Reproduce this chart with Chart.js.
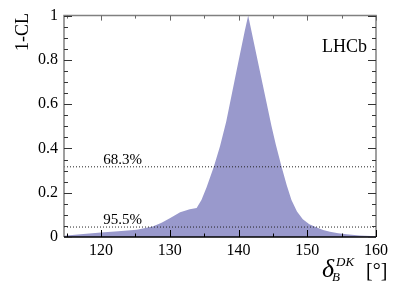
<!DOCTYPE html>
<html>
<head>
<meta charset="utf-8">
<script src="https://cdn.jsdelivr.net/npm/chart.js@4/dist/chart.umd.min.js"></script>
<style>
  html, body { margin: 0; padding: 0; background: #fff; }
  #wrap { width: 399px; height: 286px; position: relative; }
</style>
</head>
<body>
<div id="wrap"><canvas id="clChart"></canvas></div>
<script>
// angle values (degrees) and 1-CL
const deltaDeg = [114.6, 117, 120, 122.5, 125.2, 127.5, 128.8, 130, 131.5, 132.9, 133.9, 134.6, 135.35, 136.4, 137.3, 138.2, 139.7, 140.9, 141.4,
  143.1, 144.8, 145.4, 146.25, 147.0, 147.7, 148.5, 149.35, 150.3, 151.3, 152.3, 153.3, 154.5, 155.7, 157.6, 160];
const oneMinusCL = [0.006, 0.012, 0.02, 0.026, 0.033, 0.047, 0.064, 0.085, 0.112, 0.125, 0.131, 0.167, 0.225, 0.317, 0.41, 0.52, 0.75, 0.93, 1.0,
  0.75, 0.5, 0.42, 0.318, 0.235, 0.167, 0.115, 0.08, 0.058, 0.044, 0.032, 0.024, 0.017, 0.0125, 0.007, 0.003];

// confidence levels drawn as dotted lines
const clLabels = ["68.3%", "95.5%"];
const clLevels = [0.317, 0.045];

const xTickVals = [120, 130, 140, 150, 160];
const yTickVals = [0, 0.2, 0.4, 0.6, 0.8, 1];

const serif = "Liberation Serif";
Chart.defaults.font.family = serif;

const curve = deltaDeg.map((x, i) => ({ x: x, y: oneMinusCL[i] }));

const datasets = [{
  data: curve,
  fill: "origin",
  backgroundColor: "rgb(153,153,204)",
  borderWidth: 0,
  pointRadius: 0,
  tension: 0,
  order: 2
}];
clLevels.forEach((lv) => {
  datasets.push({
    data: [{ x: 114.6, y: lv }, { x: 160, y: lv }],
    borderColor: "#222",
    borderWidth: 1,
    borderDash: [1, 2],
    pointRadius: 0,
    fill: false,
    order: 1
  });
});

// frame, inward ticks and the texts
const framePlugin = {
  id: "frame",
  afterDraw(chart) {
    const { ctx, chartArea: a, scales } = chart;
    const xs = scales.x, ys = scales.y;
    ctx.save();
    ctx.lineWidth = 1.5;
    ctx.strokeStyle = "#808080";
    ctx.beginPath();
    ctx.moveTo(a.left, a.bottom); ctx.lineTo(a.left, a.top);
    ctx.lineTo(a.right, a.top); ctx.lineTo(a.right, a.bottom);
    ctx.stroke();
    ctx.strokeStyle = "#000";
    ctx.beginPath();
    ctx.moveTo(a.left, a.bottom); ctx.lineTo(a.right, a.bottom);
    ctx.stroke();

    ctx.lineWidth = 1;
    // x ticks every 5, major every 10
    for (let v = 115; v <= 160; v += 5) {
      const px = Math.round(xs.getPixelForValue(v)) + 0.5;
      const major = v % 10 === 0;
      const len = major ? 7 : 3.5;
      ctx.strokeStyle = "#000";
      ctx.beginPath(); ctx.moveTo(px, a.bottom); ctx.lineTo(px, a.bottom - len); ctx.stroke();
      ctx.strokeStyle = "#666";
      ctx.beginPath(); ctx.moveTo(px, a.top); ctx.lineTo(px, a.top + (major ? 5 : 3)); ctx.stroke();
    }
    // y ticks every 0.05, major every 0.2
    for (let i = 0; i <= 20; i++) {
      const v = i * 0.05;
      const py = Math.round(ys.getPixelForValue(v)) + 0.5;
      const major = i % 4 === 0;
      const len = major ? 8 : 4;
      ctx.strokeStyle = "#333";
      ctx.beginPath(); ctx.moveTo(a.left, py); ctx.lineTo(a.left + len, py); ctx.stroke();
      ctx.beginPath(); ctx.moveTo(a.right, py); ctx.lineTo(a.right - len, py); ctx.stroke();
    }

    ctx.fillStyle = "#000";
    // CL labels above the dotted lines
    ctx.font = "15px '" + serif + "'";
    ctx.textAlign = "left";
    ctx.textBaseline = "alphabetic";
    clLevels.forEach((lv, i) => {
      ctx.fillText(clLabels[i], xs.getPixelForValue(120.3), ys.getPixelForValue(lv) - 3);
    });

    ctx.font = "18px '" + serif + "'";
    ctx.textAlign = "right";
    ctx.fillText("LHCb", 367, 52);

    // y title
    ctx.save();
    ctx.translate(28, 13);
    ctx.rotate(-Math.PI / 2);
    ctx.textAlign = "right";
    ctx.font = "18px '" + serif + "'";
    ctx.fillText("1-CL", 0, 0);
    ctx.restore();

    // x title: delta_B^DK [deg]
    ctx.textAlign = "left";
    ctx.font = "italic 26px '" + serif + "'";
    ctx.fillText("\u03b4", 322, 277);
    const dEnd = 322 + ctx.measureText("\u03b4").width;
    ctx.font = "italic 13px '" + serif + "'";
    ctx.fillText("DK", dEnd + 2, 266);
    ctx.fillText("B", dEnd - 2, 281);
    ctx.font = "20px '" + serif + "'";
    ctx.fillText("[\u00b0]", 366, 277);
    ctx.restore();
  }
};

new Chart(document.getElementById("clChart").getContext("2d"), {
  type: "line",
  data: { datasets: datasets },
  options: {
    responsive: true,
    maintainAspectRatio: false,
    animation: false,
    layout: { padding: { top: 14, right: 23, left: 0, bottom: 0 } },
    plugins: { legend: { display: false }, tooltip: { enabled: false } },
    scales: {
      x: {
        type: "linear",
        min: 114.6,
        max: 160,
        afterBuildTicks: (s) => { s.ticks = xTickVals.map((v) => ({ value: v })); },
        afterFit: (s) => { s.height = 49; },
        grid: { display: false, drawTicks: false },
        border: { display: false },
        ticks: { color: "#000", padding: 4, maxRotation: 0, font: { family: serif, size: 16 } }
      },
      y: {
        min: 0,
        max: 1,
        afterBuildTicks: (s) => { s.ticks = yTickVals.map((v) => ({ value: v })); },
        afterFit: (s) => { s.width = 64; },
        grid: { display: false, drawTicks: false },
        border: { display: false },
        ticks: {
          color: "#000",
          padding: 6,
          font: { family: serif, size: 16 },
          callback: (v) => (v === 0 || v === 1 ? String(v) : v.toFixed(1))
        }
      }
    }
  },
  plugins: [framePlugin]
});
</script>
</body>
</html>
